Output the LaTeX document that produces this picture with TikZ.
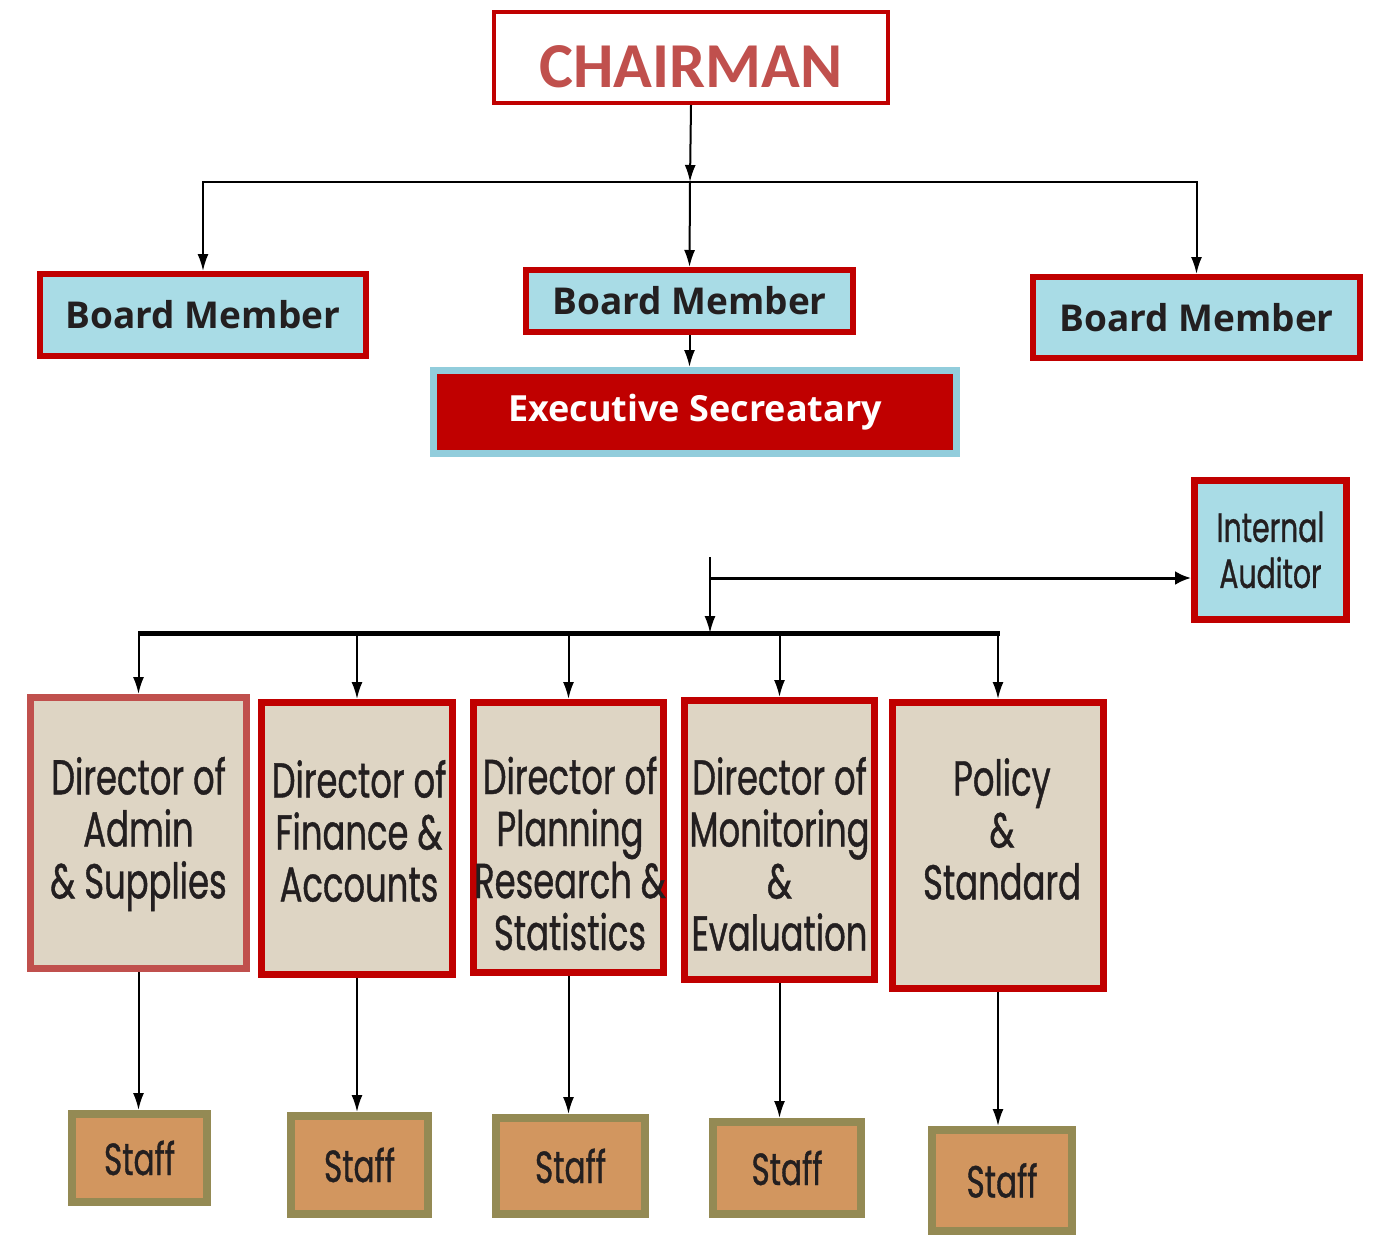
\documentclass[tikz,border=0pt]{standalone}
\usepackage{fontspec}
\usetikzlibrary{arrows.meta}
\newfontfamily\chairfont{Carlito}
\newfontfamily\bmfont{Open Sans}
\newfontfamily\twfont[FakeStretch=0.69,FakeBold=0.8]{Poppins}
\definecolor{dred}{HTML}{C00000}
\definecolor{lred}{HTML}{C0504D}
\definecolor{ice}{HTML}{A9DCE6}
\definecolor{iceb}{HTML}{92CDDC}
\definecolor{linen}{HTML}{DED5C4}
\definecolor{wood}{HTML}{D2965F}
\definecolor{olive}{HTML}{948A54}
\definecolor{ink}{HTML}{231F20}
\tikzset{
  x=1pt, y=-1pt,
  box/.style={draw, rectangle, inner sep=0pt, align=center},
  chairbox/.style={box, draw=dred, line width=4pt, fill=white, text=lred,
    font=\chairfont\bfseries\fontsize{64}{72}\selectfont},
  bmbox/.style={box, draw=dred, line width=6pt, fill=ice, text=ink,
    font=\bmfont\bfseries\fontsize{37}{44}\selectfont},
  esbox/.style={box, draw=iceb, line width=7pt, fill=dred, text=white,
    font=\bmfont\bfseries\fontsize{36}{44}\selectfont},
  audbox/.style={box, draw=dred, line width=7pt, fill=ice, text=ink,
    font=\twfont\fontsize{41}{46}\selectfont},
  dirbox/.style={box, draw=dred, line width=7pt, fill=linen},
  dirtext/.style={inner sep=0pt, align=center, text=ink,
    font=\twfont\fontsize{49}{52}\selectfont},
  staffbox/.style={box, draw=olive, line width=8pt, fill=wood, text=ink,
    font=\twfont\fontsize{45}{50}\selectfont},
  arr/.style={line width=2pt, -{Latex[length=17pt,width=11pt]}},
  bus/.style={line width=5pt},
}
\begin{document}
\begin{tikzpicture}
\useasboundingbox (0,0) rectangle (1379,1235);
% top
\node[chairbox, minimum width=394, text height=75pt, text depth=16pt] (chair) at (691,57.5) {CHAIRMAN};
\node[bmbox, minimum width=326, minimum height=82] (bm1) at (203,315) {Board Member};
\node[bmbox, minimum width=327, minimum height=62] (bm2) at (689.5,301) {Board Member};
\node[bmbox, minimum width=327, minimum height=81] (bm3) at (1196.5,317.5) {Board Member};
\node[esbox, minimum width=523, minimum height=83] (es) at (695,412) {Executive Secreatary};
\node[audbox, minimum width=152, minimum height=139] (aud) at (1270.5,550) {Internal\\Auditor};
% directors
\node[dirbox, draw=lred, minimum width=216, minimum height=271] (d1) at (138.5,833) {};
\node[dirbox, minimum width=191, minimum height=272] (d2) at (357,838.5) {};
\node[dirbox, minimum width=190, minimum height=270] (d3) at (568.5,837.5) {};
\node[dirbox, minimum width=190, minimum height=279] (d4) at (779.5,840) {};
\node[dirbox, minimum width=211, minimum height=286] (d5) at (998,845.5) {};
\node[dirtext] (t1) at (138.5,834) {Director of\\Admin\\\& Supplies};
\node[dirtext] (t2) at (359,831) {Director of\\Finance \&\\Accounts};
\node[dirtext] (t3) at (570,853.5) {Director of\\Planning\\Research \&\\Statistics};
\node[dirtext] (t4) at (779.5,854) {Director of\\Monitoring\\\&\\Evaluation};
\node[dirtext] (t5) at (1002,829) {Policy\\\&\\Standard};
% staff
\node[staffbox, minimum width=135, minimum height=88] (s1) at (139.5,1158) {Staff};
\node[staffbox, minimum width=137, minimum height=98] (s2) at (359.5,1165) {Staff};
\node[staffbox, minimum width=149, minimum height=96] (s3) at (570.5,1166) {Staff};
\node[staffbox, minimum width=148, minimum height=92] (s4) at (787,1168) {Staff};
\node[staffbox, minimum width=140, minimum height=101] (s5) at (1002,1180.5) {Staff};
% connectors top
\coordinate (jM) at (690,182);
\draw[arr] (chair.south) -- (jM);
\draw[arr] (jM) -- (bm2.north);
\draw[arr] (jM) -| (bm1.north);
\draw[arr] (jM) -| (bm3.north);
\draw[arr] (bm2.south) -- (es.north -| bm2.south);
% exec to directors
\coordinate (es0) at (710,557);
\coordinate (busM) at (710,633);
\coordinate (busL) at (138,633);
\coordinate (busR) at (1000,633);
\coordinate (audj) at (710,578);
\draw[bus] (busL) -- (busR);
\draw[arr] (es0) -- (busM);
\draw[line width=3pt, -{Latex[length=16pt,width=14pt]}] (audj) -- (aud.west |- audj);
\foreach \d in {d1,d2,d3,d4,d5}{
  \draw[arr] (\d.north |- busL) -- (\d.north);
}
\foreach \d/\s in {d1/s1,d2/s2,d3/s3,d4/s4,d5/s5}{
  \draw[arr] (\d.south) -- (\d.south |- \s.north);
}
\end{tikzpicture}
\end{document}
